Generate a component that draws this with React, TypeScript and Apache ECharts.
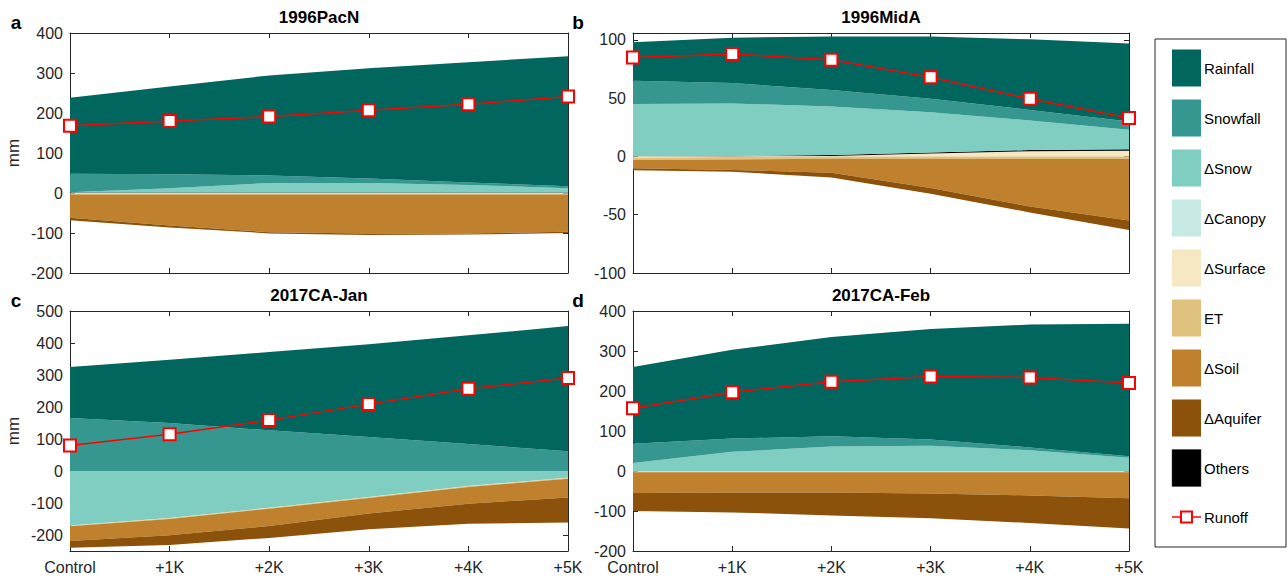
import React, { useEffect, useRef } from "react";
import * as echarts from "echarts";

const scenarios = ["Control", "+1K", "+2K", "+3K", "+4K", "+5K"];
const componentNames = ["Rainfall", "Snowfall", "ΔSnow", "ΔCanopy", "ΔSurface", "ET", "ΔSoil", "ΔAquifer", "Others"];
const componentColors = ["#01665E", "#35978F", "#80CDC1", "#C7EAE5", "#F6E8C3", "#DFC27D", "#BF812D", "#8C510A", "#000000"];

// Panel a: 1996PacN
const aRainfall = [190, 219, 250, 276, 301, 325];
const aSnowfall = [46, 35, 19, 11, 6, 5];
const aDSnow = [1, 11, 24, 24, 19, 11];
const aDCanopy = [0, 0, 0, 0, 0, 0];
const aDSurface = [-1, -1, -1, -1, -1, -1];
const aET = [-3, -3, -3, -3, -3, -3];
const aDSoil = [-58, -77, -94, -97, -97, -93];
const aDAquifer = [-6, -5, -3, -4, -3, -3];
const aOthers = [1, 1, 1, 1, 1, 1];
const aRunoff = [168, 180, 191, 207, 222, 241];

// Panel b: 1996MidA
const bRainfall = [33, 39, 46, 53.5, 60.6, 67];
const bSnowfall = [20, 17.5, 14, 11.5, 9, 7];
const bDSnow = [44.7, 45, 41.8, 34.5, 25.5, 16.8];
const bDCanopy = [0, 0, 0, 0, 0, 0];
const bDSurface = [-1, -0.5, 0.5, 2.5, 4.5, 5];
const bET = [-2, -2, -2, -2, -2, -2];
const bDSoil = [-7, -9, -12, -25, -41, -53];
const bDAquifer = [-1.7, -1.5, -4, -5, -5, -8];
const bOthers = [0.3, 0.5, 0.7, 1, 1, 1.2];
const bRunoff = [85, 88, 83, 68, 49.5, 33];

// Panel c: 2017CA-Jan
const cRainfall = [159, 198, 245, 290, 340, 391];
const cSnowfall = [166, 150, 127, 106, 84, 62];
const cDSnow = [-170, -147, -115, -81, -47, -21];
const cDCanopy = [0, 0, 0, 0, 0, 0];
const cDSurface = [-1, -1, -1, -1, -1, -1];
const cET = [-2, -2, -2, -2, -2, -2];
const cDSoil = [-46, -51, -54, -49, -52, -59];
const cDAquifer = [-21, -30, -37, -49, -63, -78];
const cOthers = [0, 0, 0, 0, 0, 0];
const cRunoff = [80, 115, 159, 209, 257, 291];

// Panel d: 2017CA-Feb
const dRainfall = [192, 222, 248, 276, 307, 331];
const dSnowfall = [48, 33, 26, 16, 7, 4];
const dDSnow = [20, 48, 61, 63, 52, 33];
const dDCanopy = [0, 0, 0, 0, 0, 0];
const dDSurface = [-1, -1, -1, -1, -1, -1];
const dET = [-2, -2, -2, -2, -2, -2];
const dDSoil = [-52, -51, -51, -53, -58, -65];
const dDAquifer = [-45, -49.5, -57, -62, -69, -76];
const dOthers = [0, 0, 0, 0, 0, 0];
const dRunoff = [157, 197, 223, 236, 234, 220];

const aTicks = [-200, -100, 0, 100, 200, 300, 400];
const bTicks = [-100, -50, 0, 50, 100];
const cTicks = [-200, -100, 0, 100, 200, 300, 400, 500];
const dTicks = [-200, -100, 0, 100, 200, 300, 400];

const panelTitles = ["1996PacN", "1996MidA", "2017CA-Jan", "2017CA-Feb"];
const panelLetters = ["a", "b", "c", "d"];

const FONT = '"Liberation Sans", Arial, Helvetica, sans-serif';
const AXIS_COLOR = "#262626";

// order for positive stacking (bottom-up) and negative stacking (from zero downward), as component indices
const posOrder = [7, 6, 5, 4, 3, 8, 2, 1, 0];
const negOrder = [2, 3, 4, 5, 6, 7, 8, 1, 0];

const panels = [
  { comps: [aRainfall, aSnowfall, aDSnow, aDCanopy, aDSurface, aET, aDSoil, aDAquifer, aOthers], runoff: aRunoff, min: -200, max: 400, ticks: aTicks, left: 70, top: 33, width: 498, name: true, labels: false },
  { comps: [bRainfall, bSnowfall, bDSnow, bDCanopy, bDSurface, bET, bDSoil, bDAquifer, bOthers], runoff: bRunoff, min: -100, max: 106, ticks: bTicks, left: 633, top: 33, width: 496, name: false, labels: false },
  { comps: [cRainfall, cSnowfall, cDSnow, cDCanopy, cDSurface, cET, cDSoil, cDAquifer, cOthers], runoff: cRunoff, min: -250, max: 500, ticks: cTicks, left: 70, top: 311, width: 498, name: true, labels: true },
  { comps: [dRainfall, dSnowfall, dDSnow, dDCanopy, dDSurface, dET, dDSoil, dDAquifer, dOthers], runoff: dRunoff, min: -200, max: 400, ticks: dTicks, left: 633, top: 311, width: 496, name: false, labels: true },
];

const PANEL_H = 240;

function buildOption() {
  const grid: any[] = [];
  const xAxis: any[] = [];
  const yAxis: any[] = [];
  const series: any[] = [];
  const graphic: any[] = [];

  panels.forEach((p, gi) => {
    grid.push({ left: p.left, top: p.top, width: p.width, height: PANEL_H, containLabel: false });
    const tickStyle = { show: true, inside: true, length: 5, lineStyle: { color: AXIS_COLOR, width: 1 } };
    const lineStyle = { show: true, onZero: false, lineStyle: { color: AXIS_COLOR, width: 1 } };
    xAxis.push({
      type: "category", gridIndex: gi, data: scenarios, boundaryGap: false, position: "bottom",
      axisLine: lineStyle, axisTick: tickStyle, splitLine: { show: false },
      axisLabel: { show: p.labels, fontSize: 16, color: AXIS_COLOR, fontFamily: FONT, margin: 8 },
    });
    xAxis.push({
      type: "category", gridIndex: gi, data: scenarios, boundaryGap: false, position: "top",
      axisLine: lineStyle, axisTick: tickStyle, splitLine: { show: false }, axisLabel: { show: false },
    });
    const yCommon = {
      type: "value", gridIndex: gi, min: p.min, max: p.max, splitLine: { show: false },
      axisLine: lineStyle,
      axisTick: { ...tickStyle, customValues: p.ticks },
    };
    yAxis.push({
      ...yCommon, position: "left",
      axisLabel: { show: true, customValues: p.ticks, fontSize: 16, color: AXIS_COLOR, fontFamily: FONT, margin: 7 },
      name: p.name ? "mm" : "", nameLocation: "middle", nameGap: 48, nameRotate: 90,
      nameTextStyle: { fontSize: 17, color: AXIS_COLOR, fontFamily: FONT },
    });
    yAxis.push({ ...yCommon, position: "right", axisLabel: { show: false } });

    const xi = gi * 2;
    const yi = gi * 2;
    posOrder.forEach((ci) => {
      series.push({
        type: "line", name: componentNames[ci] + "+", xAxisIndex: xi, yAxisIndex: yi,
        stack: "pos" + gi, stackStrategy: "all",
        data: p.comps[ci].map((v) => Math.max(v, 0)),
        showSymbol: false, symbol: "none", lineStyle: { width: 0 },
        areaStyle: { color: componentColors[ci], opacity: 1 }, itemStyle: { color: componentColors[ci] },
        silent: true, z: 2,
      });
    });
    negOrder.forEach((ci) => {
      series.push({
        type: "line", name: componentNames[ci] + "-", xAxisIndex: xi, yAxisIndex: yi,
        stack: "neg" + gi, stackStrategy: "all",
        data: p.comps[ci].map((v) => Math.min(v, 0)),
        showSymbol: false, symbol: "none", lineStyle: { width: 0 },
        areaStyle: { color: componentColors[ci], opacity: 1 }, itemStyle: { color: componentColors[ci] },
        silent: true, z: 2,
      });
    });
    series.push({
      type: "line", name: "Runoff", xAxisIndex: xi, yAxisIndex: yi, data: p.runoff,
      symbol: "rect", symbolSize: 12, showSymbol: true,
      lineStyle: { color: "#FF0000", width: 1.5 },
      itemStyle: { color: "#FFFFFF", borderColor: "#FF0000", borderWidth: 2 },
      z: 5, silent: true,
    });

    graphic.push({
      type: "text", x: p.left + p.width / 2, y: p.top - 16, z: 10,
      style: { text: panelTitles[gi], font: `bold 17px ${FONT}`, fill: "#000", textAlign: "center", textVerticalAlign: "middle" },
    });
    graphic.push({
      type: "text", x: gi % 2 === 0 ? 16 : 578, y: p.top - 11, z: 10,
      style: { text: panelLetters[gi], font: `bold 19px ${FONT}`, fill: "#000", textAlign: "center", textVerticalAlign: "middle" },
    });
  });

  // legend box
  const LX = 1155, LY = 39, LW = 131, LH = 508;
  graphic.push({ type: "rect", shape: { x: LX, y: LY, width: LW, height: LH }, style: { fill: "#fff", stroke: AXIS_COLOR, lineWidth: 1 }, z: 1 });
  componentNames.forEach((nm, i) => {
    const cy = 68 + i * 50;
    graphic.push({ type: "rect", shape: { x: 1172, y: cy - 18.5, width: 29, height: 37 }, style: { fill: componentColors[i], stroke: i === 8 ? "#444" : null, lineWidth: 0.5 }, z: 2 });
    graphic.push({ type: "text", x: 1204, y: cy, style: { text: nm, font: `15px ${FONT}`, fill: "#000", textAlign: "left", textVerticalAlign: "middle" }, z: 2 });
  });
  const ry = 68 + 9 * 50 - 1;
  graphic.push({ type: "line", shape: { x1: 1172, y1: ry, x2: 1201, y2: ry }, style: { stroke: "#FF0000", lineWidth: 1.5 }, z: 2 });
  graphic.push({ type: "rect", shape: { x: 1181, y: ry - 5.5, width: 11, height: 11 }, style: { fill: "#fff", stroke: "#FF0000", lineWidth: 2 }, z: 3 });
  graphic.push({ type: "text", x: 1204, y: ry, style: { text: "Runoff", font: `15px ${FONT}`, fill: "#000", textAlign: "left", textVerticalAlign: "middle" }, z: 3 });

  return {
    animation: false,
    backgroundColor: "#ffffff",
    textStyle: { fontFamily: FONT },
    grid, xAxis, yAxis, series, graphic,
  };
}

export default function App() {
  const ref = useRef<HTMLDivElement>(null);
  useEffect(() => {
    if (!ref.current) return;
    const chart = echarts.init(ref.current, undefined, { renderer: "svg" });
    chart.setOption(buildOption() as any);
    return () => chart.dispose();
  }, []);
  return <div ref={ref} style={{ position: "absolute", left: 0, top: 0, width: 1287, height: 577 }} />;
}
